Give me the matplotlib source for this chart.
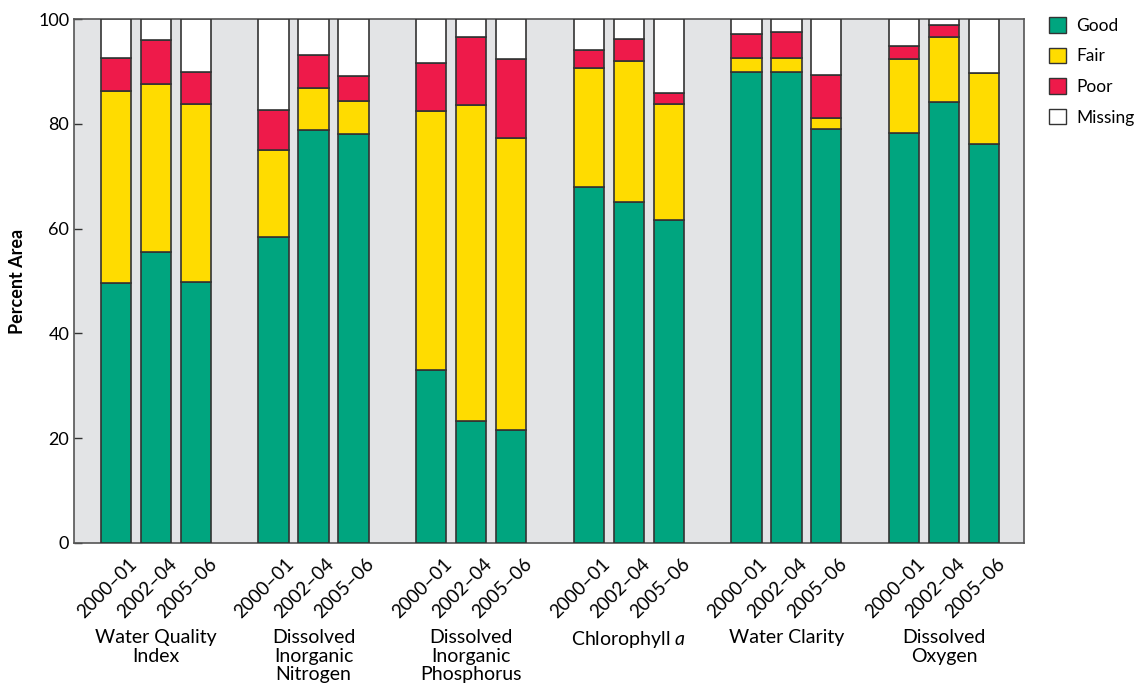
import numpy as np
import matplotlib
matplotlib.use('Agg')
import matplotlib.pyplot as plt
from matplotlib.patches import Patch
import matplotlib.transforms as mtransforms

plt.rcParams['font.family'] = ['Lato', 'DejaVu Sans']
plt.rcParams['mathtext.fontset'] = 'custom'
plt.rcParams['mathtext.rm'] = 'Lato'
plt.rcParams['mathtext.it'] = 'Lato:italic'

indicators = ['Water Quality\nIndex', 'Dissolved\nInorganic\nNitrogen', 'Dissolved\nInorganic\nPhosphorus',
              'Chlorophyll $a$', 'Water Clarity', 'Dissolved\nOxygen']
periods = ['2000–01', '2002–04', '2005–06']

# percent area per indicator, one value per period
good = [[49.6, 55.5, 49.8], [58.4, 78.9, 78.1], [33.1, 23.3, 21.6],
        [67.9, 65.1, 61.6], [89.8, 89.8, 79.0], [78.3, 84.1, 76.2]]
fair = [[36.7, 32.1, 34.0], [16.6, 7.9, 6.3], [49.4, 60.2, 55.7],
        [22.8, 26.8, 22.2], [2.8, 2.8, 2.2], [14.0, 12.5, 13.5]]
poor = [[6.3, 8.3, 6.1], [7.7, 6.3, 4.8], [9.1, 13.0, 15.1],
        [3.4, 4.3, 2.0], [4.5, 4.9, 8.2], [2.5, 2.2, 0.0]]

good = np.array(good)
fair = np.array(fair)
poor = np.array(poor)
missing = 100 - good - fair - poor

colors = {'Good': '#00a57f', 'Fair': '#ffdc00', 'Poor': '#ee1a4a', 'Missing': 'white'}
edge = '#333333'

fig = plt.figure(figsize=(11.44, 6.91), dpi=100)
ax = fig.add_axes([0.0647, 0.2142, 0.8303, 0.7583])
ax.set_facecolor('#e3e4e6')

group_step = 3.95
w = 0.76
xs, xlabels = [], []
for g in range(len(indicators)):
    x = g * group_step + np.array([-1, 0, 1])
    bottom = np.zeros(3)
    for name, vals in [('Good', good[g]), ('Fair', fair[g]), ('Poor', poor[g]), ('Missing', missing[g])]:
        ax.bar(x, vals, w, bottom=bottom, color=colors[name], edgecolor=edge, linewidth=1.2, zorder=3)
        bottom = bottom + vals
    xs.extend(x)
    xlabels.extend(periods)

ax.set_xlim(-2.05, (len(indicators) - 1) * group_step + 2.0)
ax.set_ylim(0, 100)
ax.set_yticks([0, 20, 40, 60, 80, 100])
ax.tick_params(axis='y', direction='in', length=6, labelsize=13, width=1, color='#333333')
ax.set_xticks(xs)
ax.set_xticklabels(xlabels, rotation=45, ha='right', rotation_mode='anchor', fontsize=13.5)
ax.tick_params(axis='x', length=0, pad=9)
for lab in ax.get_xticklabels():
    lab.set_transform(lab.get_transform() + mtransforms.ScaledTranslation(0.12, 0, fig.dpi_scale_trans))
for s in ax.spines.values():
    s.set_color('#555555')
    s.set_linewidth(1.2)

ax.set_ylabel('Percent Area', fontsize=13, fontweight='bold', labelpad=9)

trans = mtransforms.blended_transform_factory(ax.transData, ax.transAxes)
for g, name in enumerate(indicators):
    ax.text(g * group_step, -0.165, name, transform=trans, ha='center', va='top',
            fontsize=14, linespacing=1.1)

handles = [Patch(facecolor=colors[k], edgecolor=edge, label=k) for k in colors]
fig.legend(handles=handles, loc='upper left', bbox_to_anchor=(0.903, 0.998), frameon=False,
           fontsize=12.5, handlelength=1.0, handleheight=1.0, labelspacing=0.8, handletextpad=0.6)

fig.savefig('out.png', dpi=100)
